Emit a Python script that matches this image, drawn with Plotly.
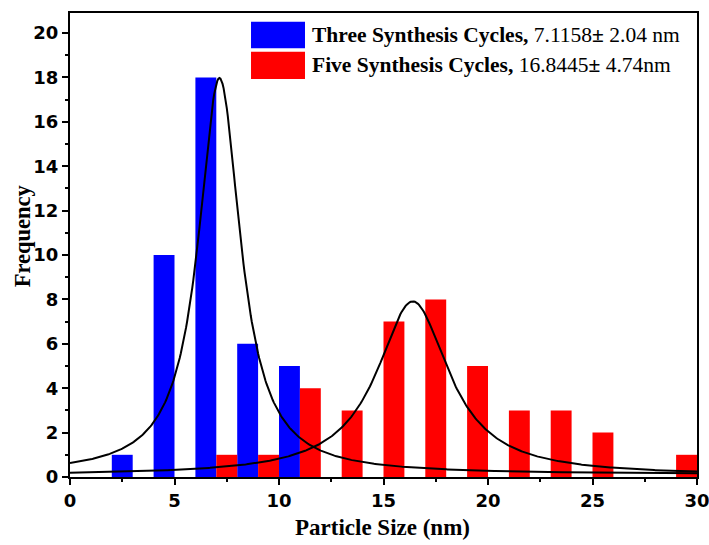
import numpy as np
import plotly.graph_objects as go

# Histogram bins (bin centres, nm) and counts
three_x = [2.5, 4.5, 6.5, 8.5, 10.5]
three_counts = [1, 10, 18, 6, 5]
five_x = [7.5, 9.5, 11.5, 13.5, 15.5, 17.5, 19.5, 21.5, 23.5, 25.5, 29.5]
five_counts = [1, 1, 4, 3, 7, 8, 5, 3, 3, 2, 1]

# Lorentzian fit parameters: centre, FWHM, peak height, baseline
three_fit = dict(xc=7.15, w=2.45, h=17.85, y0=0.12)
five_fit = dict(xc=16.4, w=4.2, h=7.85, y0=0.06)

legend_labels = [
    "<b>Three Synthesis Cycles,</b> 7.1158<b>±</b> 2.04 nm",
    "<b>Five Synthesis Cycles,</b> 16.8445<b>±</b> 4.74nm",
]
colors = ["#0000FF", "#FF0000"]


def lorentz(x, xc, w, h, y0):
    return y0 + h * w**2 / (4 * (x - xc) ** 2 + w**2)


xs = np.linspace(0, 30, 601)

fig = go.Figure()
fig.add_trace(go.Bar(x=three_x, y=three_counts, width=1, marker=dict(color=colors[0], line=dict(width=0)),
                     name="Three Synthesis Cycles"))
fig.add_trace(go.Bar(x=five_x, y=five_counts, width=1, marker=dict(color=colors[1], line=dict(width=0)),
                     name="Five Synthesis Cycles"))
fig.add_trace(go.Scatter(x=xs, y=lorentz(xs, **three_fit), mode="lines",
                         line=dict(color="black", width=2), name="Fit (three)"))
fig.add_trace(go.Scatter(x=xs, y=lorentz(xs, **five_fit), mode="lines",
                         line=dict(color="black", width=2), name="Fit (five)"))

tick_font = dict(family="DejaVu Sans", size=18, color="black", weight="bold")
title_font = dict(family="Liberation Serif", size=23, color="black", weight="bold")

axis_common = dict(showgrid=False, zeroline=False, showline=True, mirror=True, automargin=False,
                   ticklabeloverflow="allow",
                   linecolor="black", linewidth=2, ticks="outside", ticklen=6,
                   tickwidth=1.5, tickcolor="black", tickfont=tick_font)

fig.update_layout(
    width=709, height=545,
    margin=dict(l=70, r=12, t=13, b=68),
    paper_bgcolor="white", plot_bgcolor="white",
    showlegend=False, barmode="overlay",
    xaxis=dict(range=[0, 30], dtick=5, tick0=0,
               minor=dict(ticks="outside", dtick=2.5, ticklen=3, tickwidth=1.5, tickcolor="black"),
               **axis_common),
    yaxis=dict(range=[0, 20.9], dtick=2, tick0=0,
               minor=dict(ticks="outside", dtick=1, ticklen=3, tickwidth=1.5, tickcolor="black"),
               **axis_common),
)

# Axis titles
fig.add_annotation(xref="paper", yref="paper", x=0.4992, y=-0.1078, text="Particle Size (nm)",
                   showarrow=False, xanchor="center", yanchor="middle", font=title_font)
fig.add_annotation(xref="paper", yref="paper", x=-0.0765, y=0.519, text="Frequency", textangle=-90,
                   showarrow=False, xanchor="center", yanchor="middle", font=dict(title_font, size=22.5))

# Legend: colour swatches with labels in the upper right
swatches = [(0.9813, 0.9239), (0.9166, 0.8578)]
label_y = [0.9526, 0.8879]
for color, (y1, y0), text, ty in zip(colors, swatches, legend_labels, label_y):
    fig.add_shape(type="rect", xref="paper", yref="paper", x0=0.2887, x1=0.3748, y0=y0, y1=y1,
                  fillcolor=color, line=dict(width=0))
    fig.add_annotation(xref="paper", yref="paper", x=0.3828, y=ty, xanchor="left", yanchor="middle",
                       text=text, showarrow=False,
                       font=dict(family="Liberation Serif", size=21.5, color="black"))

fig.write_html("out.html")
